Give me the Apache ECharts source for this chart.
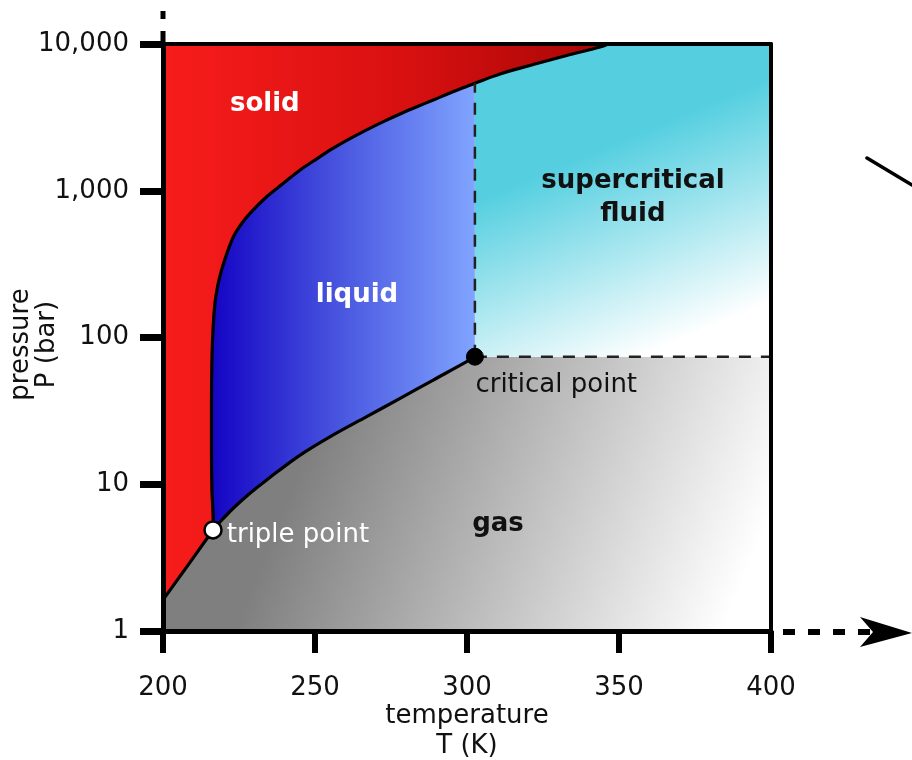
<!DOCTYPE html>
<html><head><meta charset="utf-8">
<script src="https://cdn.jsdelivr.net/npm/echarts@6/dist/echarts.min.js"></script>
<style>html,body{margin:0;padding:0;background:#fff}#c{width:912px;height:760px}</style>
</head><body><div id="c"></div>
<script>
// ---- data (T in K, P in bar) ----
const xTicks = [200, 250, 300, 350, 400];
const yTickLabels = ['1', '10', '100', '1,000', '10,000'];
const triplePoint = [216.45, 4.88];
const criticalPoint = [302.6, 74.0];
const sublimation = [[200, 1.63], [206.7, 2.54], [216.45, 4.88]];
const vaporization = [[216.45, 4.88], [218.75, 5.53], [223.1, 6.86], [228.6, 8.68], [234.1, 10.7], [245.1, 15.8], [256.0, 21.7], [267.0, 28.9], [278.0, 38.5], [288.9, 51.3], [299.9, 68.4], [302.6, 74.0]];
const melting = [[216.45, 4.88], [216.5, 5.71], [216.1, 9.14], [215.95, 16.3], [215.95, 37.5], [216.1, 70.3], [216.45, 112.5], [217.1, 171.8], [217.93, 220.9], [218.75, 262.5], [220.39, 342.7], [223.13, 483.9], [225.66, 588.9], [228.6, 702], [234.1, 911], [239.6, 1124], [245.1, 1385], [250.6, 1651], [256.0, 1950], [261.5, 2267], [267.0, 2602], [272.5, 2959], [277.96, 3334], [283.5, 3734], [288.9, 4153], [294.4, 4636], [299.9, 5142], [302.6, 5407], [310.9, 6246], [321.8, 7249], [332.8, 8349], [343.75, 9541], [346.4, 10000]];
const regionNames = ['solid', 'liquid', 'supercritical\nfluid', 'gas'];
const regionLabelAt = [[233.5, 3900], [263.8, 195], [354.6, 892], [310.2, 5.36]];
const pointNames = ['triple point', 'critical point'];
const xName = 'temperature\nT (K)';
const yName = 'pressure\nP (bar)';
const Tmin = 200, Tmax = 400, Pmin = 1, Pmax = 10000;

// ---- build ----
const Tc = criticalPoint[0], Pc = criticalPoint[1];
const meltLow = melting.filter(p => p[0] <= Tc);
const meltHigh = melting.filter(p => p[0] >= Tc);
const meltAtTc = meltLow[meltLow.length - 1];
const G = echarts.graphic;
const FONT = 'DejaVu Sans';

const polys = {
  gas: [[Tmin, Pmin], ...sublimation, ...vaporization.slice(1), [Tmax, Pc], [Tmax, Pmin]],
  solid: [...sublimation, ...melting.slice(1), [Tmin, Pmax]],
  liquid: [...meltLow, ...vaporization.slice().reverse()],
  scf: [criticalPoint, ...meltHigh, [Tmax, Pmax], [Tmax, Pc]]
};
const fills = {
  gas: new G.LinearGradient(0.225, 0.41, 0.916, 1.03, [{offset: 0, color: '#7f7f7f'}, {offset: 1, color: '#ffffff'}]),
  solid: new G.LinearGradient(0, 0, 1, 0, [{offset: 0, color: '#f81c1c'}, {offset: 0.55, color: '#d81010'}, {offset: 1, color: '#a80606'}]),
  liquid: new G.LinearGradient(0, 0, 1, 0, [{offset: 0, color: '#1404c4'}, {offset: 0.5, color: '#4a58e0'}, {offset: 1, color: '#80a4ff'}]),
  scf: new G.LinearGradient(0.42, 0.34, 0.69, 0.95, [{offset: 0, color: '#55cfe0'}, {offset: 1, color: '#ffffff'}])
};
function polySeries(key) {
  const pts = polys[key];
  return {
    type: 'custom', silent: true, z: 1, clip: true,
    data: [pts[0]], encode: {x: 0, y: 1},
    renderItem: (params, api) => ({
      type: 'polygon',
      shape: {points: pts.map(p => api.coord(p))},
      style: {fill: fills[key], stroke: null}
    })
  };
}
function curve(data, dashed) {
  return {
    type: 'line', data, symbol: 'none', silent: true, z: 3, clip: false,
    smooth: dashed ? false : 0.35,
    lineStyle: dashed ? {color: '#222', width: 2.5, type: [12, 10]} : {color: '#000', width: 3.2, join: 'round'},
  };
}
const chart = echarts.init(document.getElementById('c'), null, {renderer: 'canvas'});
const option = {
  animation: false,
  grid: {left: 163, right: 141, top: 44, bottom: 129, containLabel: false, outerBoundsMode: 'none'},
  xAxis: [{
    type: 'value', min: Tmin, max: Tmax, interval: 50, z: 10,
    axisLine: {onZero: false, lineStyle: {color: '#000', width: 5}},
    axisTick: {length: 22, lineStyle: {color: '#000', width: 6}},
    axisLabel: {margin: 44, fontFamily: FONT, fontSize: 26, color: '#111',
      formatter: v => String(xTicks.find(t => t === v))},
    splitLine: {show: false},
    name: xName, nameLocation: 'middle', nameGap: 70, nameMoveOverlap: false,
    nameTextStyle: {fontFamily: FONT, fontSize: 26, color: '#111', lineHeight: 30, verticalAlign: 'top'}
  }, {
    type: 'value', position: 'top', min: Tmin, max: Tmax, z: 10,
    axisLine: {onZero: false, lineStyle: {color: '#000', width: 4}},
    axisTick: {show: false}, axisLabel: {show: false}, splitLine: {show: false}
  }],
  yAxis: [{
    type: 'log', logBase: 10, min: Pmin, max: Pmax, z: 10,
    axisLine: {onZero: false, lineStyle: {color: '#000', width: 5}},
    axisTick: {length: 23, lineStyle: {color: '#000', width: 7}},
    axisLabel: {margin: 34, fontFamily: FONT, fontSize: 26, color: '#111',
      formatter: v => yTickLabels[Math.round(Math.log10(v))]},
    minorTick: {show: false}, splitLine: {show: false},
    name: yName, nameLocation: 'middle', nameGap: 103, nameRotate: 90, nameMoveOverlap: false,
    nameTextStyle: {fontFamily: FONT, fontSize: 26, color: '#111', lineHeight: 26, padding: [0, 14, 0, 0]}
  }, {
    type: 'value', position: 'right', min: 0, max: 1, z: 10,
    axisLine: {show: true, onZero: false, lineStyle: {color: '#000', width: 4}},
    axisTick: {show: false}, axisLabel: {show: false}, splitLine: {show: false}
  }],
  series: [
    polySeries('gas'), polySeries('solid'), polySeries('liquid'), polySeries('scf'),
    curve(sublimation), curve(vaporization), curve(melting),
    curve([criticalPoint, meltAtTc], true),
    curve([criticalPoint, [Tmax, Pc]], true),
    {
      type: 'scatter', z: 5, silent: true, symbolSize: 0, itemStyle: {opacity: 1},
      data: regionLabelAt.map((p, i) => ({value: p, name: regionNames[i],
        label: {color: i < 2 ? '#fff' : '#111'}})),
      label: {show: true, opacity: 1, position: 'inside', formatter: p => p.name, fontFamily: FONT,
        fontWeight: 'bold', fontSize: 26, lineHeight: 33, align: 'center', verticalAlign: 'middle'}
    },
    {
      type: 'scatter', z: 6, silent: true, symbolSize: 17, itemStyle: {opacity: 1},
      data: [
        {value: triplePoint, name: pointNames[0],
          itemStyle: {color: '#fff', borderColor: '#000', borderWidth: 2.5, opacity: 1},
          label: {color: '#fff', position: [23.5, 15.5]}},
        {value: criticalPoint, name: pointNames[1],
          itemStyle: {color: '#000', borderColor: '#000', borderWidth: 1, opacity: 1},
          label: {color: '#111', position: [9.5, 37.5]}}
      ],
      label: {show: true, opacity: 1, formatter: p => p.name, fontFamily: FONT, fontSize: 26,
        align: 'left', verticalAlign: 'middle'}
    }
  ]
};
chart.setOption(option);

// decorative arrows continuing the axes, placed from the axis scale
const br = chart.convertToPixel({xAxisIndex: 0, yAxisIndex: 0}, [Tmax, Pmin]);
const tl = chart.convertToPixel({xAxisIndex: 0, yAxisIndex: 0}, [Tmin, Pmax]);
const bx = br[0], by = br[1] + 1, lx = tl[0], ty = tl[1];
chart.setOption({graphic: [
  {type: 'line', z: 20, shape: {x1: bx + 12, y1: by, x2: bx + 100, y2: by},
    style: {stroke: '#000', lineWidth: 6, lineDash: [12, 13]}},
  {type: 'polygon', z: 20, shape: {points: [[bx + 89, by - 15], [bx + 141, by + 1], [bx + 89, by + 15], [bx + 102, by]]},
    style: {fill: '#000'}},
  {type: 'line', z: 20, shape: {x1: lx, y1: ty, x2: lx, y2: ty - 13}, style: {stroke: '#000', lineWidth: 5}},
  {type: 'line', z: 20, shape: {x1: lx, y1: ty - 25, x2: lx, y2: ty - 33}, style: {stroke: '#000', lineWidth: 5}},
  {type: 'line', z: 20, shape: {x1: bx + 96, y1: ty + 114, x2: bx + 141, y2: ty + 141},
    style: {stroke: '#000', lineWidth: 3.5, lineCap: 'round'}}
]});
</script></body></html>
